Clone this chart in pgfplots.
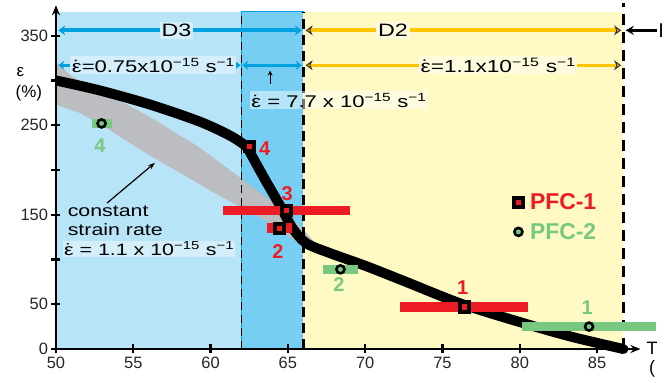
\documentclass[border=0pt]{standalone}
\usepackage{fontspec}
\setmainfont{Liberation Sans}
\newfontfamily\wide[FakeStretch=1.3]{Liberation Sans}
\usepackage{pgfplots}
\pgfplotsset{compat=1.18}
\usetikzlibrary{arrows.meta}

\definecolor{lblue}{RGB}{184,228,247}
\definecolor{dblue}{RGB}{118,206,242}
\definecolor{lyellow}{RGB}{255,249,196}
\definecolor{cyanl}{RGB}{0,163,224}
\definecolor{yell}{RGB}{255,198,0}
\definecolor{pred}{RGB}{237,28,36}
\definecolor{pgreen}{RGB}{120,200,130}
\definecolor{band}{RGB}{188,189,193}
\definecolor{bbox}{RGB}{212,239,251}
\definecolor{ybox}{RGB}{255,252,222}

\newcommand\ed{\accent"02D9 ε}
\newcommand\tsup[1]{\textsuperscript{#1}}
\newcommand\fs[1]{\fontsize{#1}{#1}\selectfont}

\tikzset{ytip/.tip={Stealth[length=7bp,width=10bp,fill=yell,color=black!80,line width=1bp]}}

\begin{document}
\begin{tikzpicture}
\begin{axis}[
  scale only axis, width=584.4bp, height=343.7bp,
  xmin=50, xmax=87.8, ymin=0, ymax=384,
  axis x line=bottom, axis y line=left,
  axis line style={line width=2.4bp, -{Stealth[length=10bp,width=8bp]}},
  axis on top,
  clip=false,
  xtick={50,55,...,85},
  ytick={0,50,...,350},
  yticklabels={0,50,,150,,250,,350},
  tick align=center,
  major tick length=9bp,
  every tick/.style={line width=2.4bp, black},
  ticklabel style={font=\fs{16.5}, text=black!85},
  /pgf/number format/assume math mode=true,
  legend style={at={(axis cs:79.6,176)}, anchor=north west, draw=none, fill=none,
    font=\fs{23}\bfseries, inner sep=0pt, row sep=8bp,
    /tikz/every odd column/.append style={column sep=5bp}},
  legend cell align=left,
  legend image code/.code={\draw[#1] plot coordinates {(0bp,0bp)};},
]
% regimes
\addplot[forget plot, draw=none, fill=lblue] coordinates {(50,0)(50,377)(62,377)(62,0)} -- cycle;
\addplot[forget plot, draw=cyanl, line width=1bp, fill=dblue] coordinates {(62,0)(62,377)(66,377)(66,0)} -- cycle;
\addplot[forget plot, draw=none, fill=lyellow] coordinates {(66,0)(66,377)(86.7,377)(86.7,0)} -- cycle;

% constant strain rate band
\addplot[forget plot, draw=none, fill=band] coordinates {
  (50,320)(51,305)(52.8,288)(54.5,274)(56.1,259)(57.7,242)(59.3,225)(60.7,207)
  (62.1,189)(64,164)(65.8,137)(67,114)
  (65.8,117)(64,139)(62.1,157)(60.7,170)(59.3,184)(57.7,200)(56.1,216)(54.5,233)
  (53,250)(51.5,264)(50,273)} -- cycle;

% regime boundaries
\addplot[forget plot, black, line width=1.4bp, dash pattern=on 8bp off 5bp] coordinates {(62,0)(62,377)};
\addplot[forget plot, black, line width=2.6bp, dash pattern=on 10bp off 6bp] coordinates {(66,0)(66,377)};
\addplot[forget plot, black, line width=3.4bp, dash pattern=on 11bp off 7bp] coordinates {(86.7,0)(86.7,386)};

% strain curve
\addplot[forget plot, black, line width=10bp, smooth] coordinates {
  (50,300)(52.8,289)(56.1,273)(59.3,254)(61.3,238)(62.35,226)};
\addplot[forget plot, black, line width=10bp, smooth, line cap=round] coordinates {
  (62.35,226)(63.4,193)(64.5,160)(65.3,135)(66.2,118)(67.9,106)(70,93)
  (72.5,76)(76.3,50)(80.6,27)(83.5,13)(86.7,0)};

% samples
\addplot[only marks, mark=square*, mark size=4.6bp,
  mark options={fill=pred, draw=black, line width=4bp},
  error bars/.cd, x dir=both, x explicit, error mark=none,
  error bar style={line width=9.5bp, pred}]
  coordinates {(62.5,226) +- (0,0) (64.9,155) +- (4.1,0) (64.45,135) +- (0.8,0) (76.4,47) +- (4.15,0)};
\addlegendentry{\textcolor{pred}{PFC-1}}
\addplot[only marks, mark=*, mark size=4bp,
  mark options={fill=pgreen, draw=black, line width=2.6bp},
  error bars/.cd, x dir=both, x explicit, error mark=none,
  error bar style={line width=8.5bp, pgreen}]
  coordinates {(52.95,252) +- (0.65,0) (68.4,89) +- (1.15,0) (84.48,25) +- (4.33,0)};
\addlegendentry{\textcolor{pgreen}{PFC-2}}

% sample numbers
\begin{scope}[font=\fs{20}\bfseries]
\node[pred] at (axis cs:63.5,224) {4};
\node[pred] at (axis cs:64.95,174) {3};
\node[pred] at (axis cs:64.35,109) {2};
\node[pred] at (axis cs:76.3,69) {1};
\node[pgreen] at (axis cs:52.85,227) {4};
\node[pgreen] at (axis cs:68.3,72) {2};
\node[pgreen] at (axis cs:84.35,46) {1};
\end{scope}

% regime arrows, first row
\draw[cyanl, line width=4bp, {Stealth[length=7bp,width=10bp]}-{Stealth[length=7bp,width=10bp]}]
  (axis cs:50.15,356) -- (axis cs:65.9,356);
\draw[yell, line width=4bp, ytip-ytip] (axis cs:66.15,356) -- (axis cs:86.55,356);
\node[fill=bbox, inner sep=2bp, font=\wide\fs{18}] at (axis cs:57.8,356) {D3};
\node[fill=ybox, inner sep=2bp, font=\wide\fs{18}] at (axis cs:71.8,356) {D2};
\draw[line width=3bp, -{Stealth[length=8bp,width=9bp]}] (axis cs:88.85,356) -- (axis cs:86.85,356);
\node[anchor=west, inner sep=0pt, font=\fs{20}] at (axis cs:88.95,356) {I};

% strain rate arrows, second row
\draw[cyanl, line width=3.5bp, {Stealth[length=6bp,width=9bp]}-{Stealth[length=6bp,width=9bp]}]
  (axis cs:50.15,317) -- (axis cs:61.95,317);
\draw[cyanl, line width=3.5bp, {Stealth[length=6bp,width=9bp]}-{Stealth[length=6bp,width=9bp]}]
  (axis cs:62.05,317) -- (axis cs:65.9,317);
\draw[yell, line width=3.5bp, ytip-ytip] (axis cs:66.15,317) -- (axis cs:86.55,317);
\node[fill=bbox, inner sep=1.5bp, font=\wide\fs{17}] at (axis cs:56.3,317)
  {\ed=0.75x10\tsup{−15} s\tsup{−1}};
\node[fill=ybox, inner sep=1.5bp, font=\wide\fs{17.5}] at (axis cs:78.6,317)
  {\ed=1.1x10\tsup{−15} s\tsup{−1}};
\node[fill=white, fill opacity=0.45, text opacity=1, inner sep=1.5bp, font=\wide\fs{17}]
  at (axis cs:68.3,278) {\ed{} = 7.7 x 10\tsup{−15} s\tsup{−1}};
\draw[line width=1bp, -{Stealth[length=5bp,width=5bp]}] (axis cs:63.85,296) -- (axis cs:63.85,311);

% constant strain rate note
\node[anchor=base west, inner sep=0pt, font=\wide\fs{16.5}] at (axis cs:50.75,147.5) {constant};
\node[anchor=base west, inner sep=0pt, font=\wide\fs{16.5}] at (axis cs:50.75,127) {strain rate};
\node[anchor=base west, fill=white, fill opacity=0.4, text opacity=1, inner sep=1bp, font=\wide\fs{16.5}]
  at (axis cs:50.45,104) {\ed{} = 1.1 x 10\tsup{−15} s\tsup{−1}};
\draw[line width=1.2bp, -{Stealth[length=7bp,width=5bp]}] (axis cs:53.3,163) -- (axis cs:56.4,208);

% axis labels
\node[font=\fs{17}] at (axis cs:47.7,309) {ε};
\node[font=\fs{17}] at (axis cs:48.25,286) {(\%)};
\node[font=\fs{18}] at (axis cs:88.55,1) {T};
\node[font=\fs{18}] at (axis cs:88.55,-22) {(};

\coordinate (BL) at (axis cs:46.38,-36.9);
\coordinate (TR) at (axis cs:89.65,389.9);
\end{axis}
\pgfresetboundingbox
\useasboundingbox (BL) rectangle (TR);
\end{tikzpicture}
\end{document}
